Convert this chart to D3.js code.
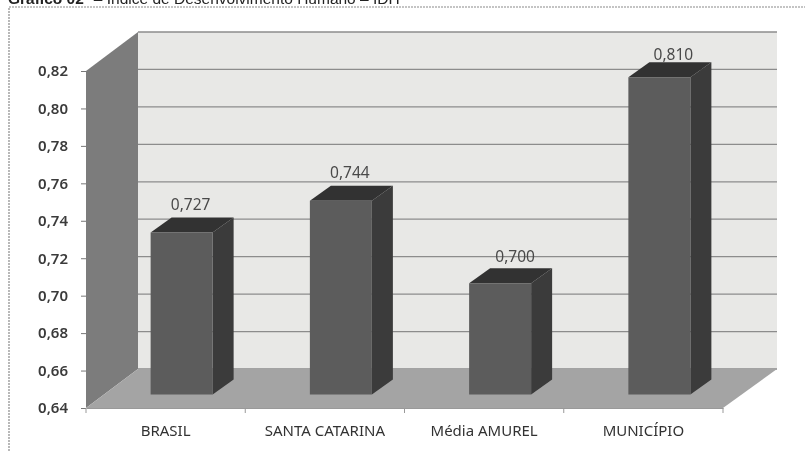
<!DOCTYPE html>
<html>
<head>
<meta charset="utf-8">
<script src="https://cdn.jsdelivr.net/npm/d3@7"></script>
<style>
  body { margin: 0; background: #fff; }
  svg { display: block; }
  text { font-family: "Noto Sans", sans-serif; fill: #3a3a3a; }
</style>
</head>
<body>
<div id="chart"></div>
<script>
// values
var categories = ["BRASIL", "SANTA CATARINA", "Média AMUREL", "MUNICÍPIO"];
var idh = [0.727, 0.744, 0.700, 0.810];
var yTicks = [0.64, 0.66, 0.68, 0.70, 0.72, 0.74, 0.76, 0.78, 0.80, 0.82];

var width = 809, height = 451;

// front plane of the 3d box
var left = 86, right = 723, top_ = 71, bottom = 408;
// wall depth and bar depth
var depthX = 52, depthY = -39;
var barDX = 21, barDY = -15, barOffX = 16, barOffY = -12.5, barWidth = 62;

var x = d3.scaleBand().domain(categories).range([left, right]);
var y = d3.scaleLinear().domain([0.64, 0.82]).range([bottom, top_]);

var comma = function(n, digits) { return n.toFixed(digits).replace(".", ","); };

var svg = d3.select("#chart").append("svg")
    .attr("width", width)
    .attr("height", height);

// scan softness
svg.append("defs").append("filter")
    .attr("id", "soft")
    .append("feGaussianBlur")
    .attr("stdDeviation", 0.6);

var g = svg.append("g").attr("filter", "url(#soft)");

// title, cut by the top of the page
var title = g.append("text")
    .attr("x", 8)
    .attr("y", 4)
    .style("font-family", "'Liberation Sans', sans-serif")
    .style("font-size", "15.5px")
    .style("fill", "#222");
title.append("tspan").style("font-weight", "bold").text("Gráfico 02");
title.append("tspan").attr("dx", 10).text("– Índice de Desenvolvimento Humano – IDH");

// frame of the chart area
g.append("path")
    .attr("d", d3.line()([[9, height], [9, 7], [805, 7]]))
    .attr("fill", "none")
    .attr("stroke", "#8a8a8a")
    .attr("stroke-width", 1.2)
    .attr("stroke-dasharray", "2,1");

function poly(points, fill) {
  g.append("polygon")
      .attr("points", points.map(function(p) { return p.join(","); }).join(" "))
      .attr("fill", fill);
}

// back wall
poly([[left + depthX, y(0.82) + depthY], [right + depthX + 2, y(0.82) + depthY],
      [right + depthX + 2, y(0.64) + depthY], [left + depthX, y(0.64) + depthY]], "#e8e8e6");

// grid on the back wall
g.selectAll(".grid")
    .data(yTicks)
  .enter().append("line")
    .attr("class", "grid")
    .attr("x1", left + depthX)
    .attr("x2", right + depthX + 2)
    .attr("y1", function(d) { return y(d) + depthY; })
    .attr("y2", function(d) { return y(d) + depthY; })
    .attr("stroke", "#8c8c8c")
    .attr("stroke-width", 1.3);

// left wall and floor
poly([[left, y(0.82)], [left + depthX, y(0.82) + depthY],
      [left + depthX, y(0.64) + depthY], [left, y(0.64)]], "#7c7c7c");
poly([[left, y(0.64)], [left + depthX, y(0.64) + depthY],
      [right + depthX + 2, y(0.64) + depthY], [right, y(0.64)]], "#a4a4a4");

// the data labels do not sit at the same place over each bar
var labelDX = [-1, -1, 5, 4], labelDY = [0, 0, 2, 6];

// bars: side, top, front
categories.forEach(function(c, i) {
  var x0 = x(c) + x.bandwidth() / 2 - barWidth / 2 + barOffX,
      x1 = x0 + barWidth,
      yTop = y(idh[i]) + barOffY,
      yBase = y(0.64) + barOffY - 1;

  poly([[x1, yTop], [x1 + barDX, yTop + barDY], [x1 + barDX, yBase + barDY], [x1, yBase]], "#3a3a3a");
  poly([[x0, yTop], [x0 + barDX, yTop + barDY], [x1 + barDX, yTop + barDY], [x1, yTop]], "#333333");
  poly([[x0, yTop], [x1, yTop], [x1, yBase], [x0, yBase]], "#5b5b5b");

  g.append("text")
      .attr("x", x0 + barDX + barWidth / 2 - 11 + labelDX[i])
      .attr("y", yTop + barDY - 8 + labelDY[i])
      .attr("text-anchor", "middle")
      .style("font-size", "15.5px")
      .style("fill", "#4a4a4a")
      .text(comma(idh[i], 3));
});

// axes
var yAxis = d3.axisLeft(y)
    .tickValues(yTicks)
    .tickSize(5)
    .tickPadding(13)
    .tickFormat(function(d) { return comma(d, 2); });

var xAxis = d3.axisBottom(x)
    .tickSize(0)
    .tickPadding(17);

var ya = g.append("g")
    .attr("transform", "translate(" + left + ",0)")
    .call(yAxis);
ya.select(".domain").remove();
ya.selectAll("line").attr("stroke", "#777");
ya.selectAll("text").style("font-size", "15px").style("font-weight", "600").style("fill", "#3a3a3a");

var xa = g.append("g")
    .attr("transform", "translate(0," + bottom + ")")
    .call(xAxis);
xa.select(".domain").attr("stroke", "#999");
xa.selectAll("text").style("font-size", "15px").style("fill", "#333");

// category separators on the x axis
xa.selectAll(".sep")
    .data(d3.range(categories.length + 1))
  .enter().append("line")
    .attr("class", "sep")
    .attr("x1", function(i) { return left + i * x.bandwidth(); })
    .attr("x2", function(i) { return left + i * x.bandwidth(); })
    .attr("y1", 0)
    .attr("y2", 5)
    .attr("stroke", "#999");
</script>
</body>
</html>
